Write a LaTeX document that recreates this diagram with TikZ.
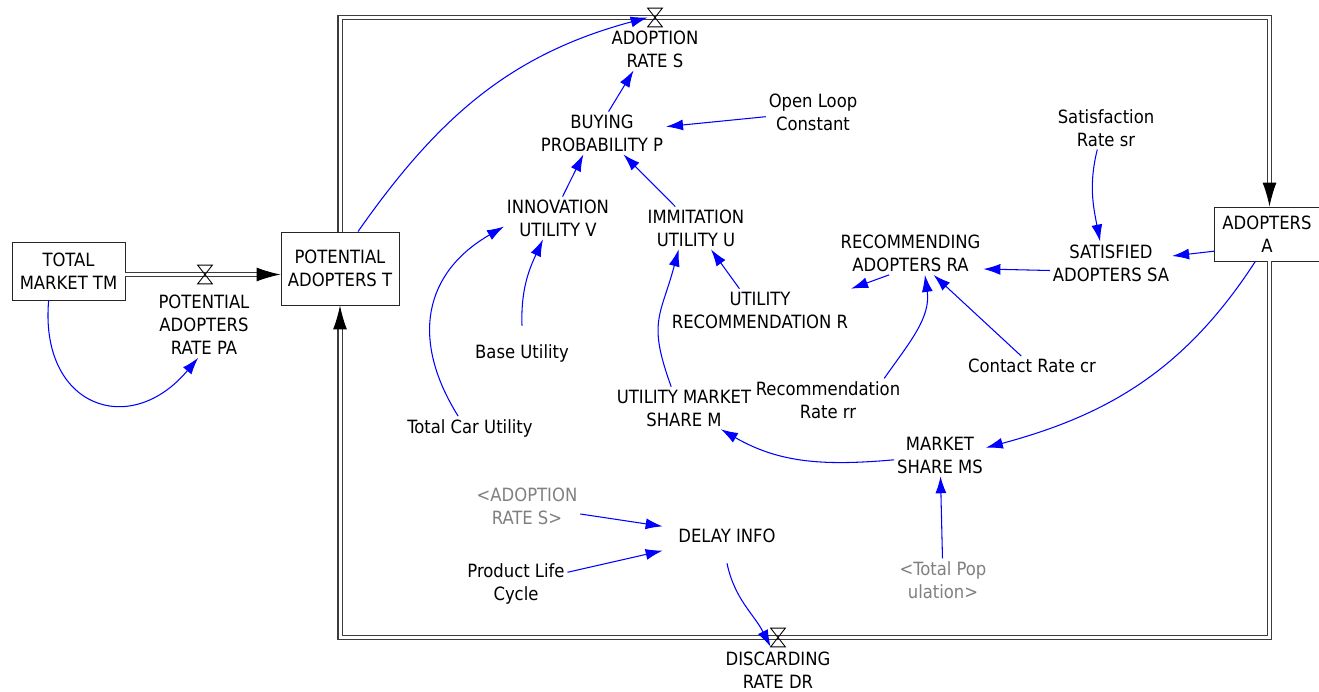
\documentclass[tikz,border=0pt]{standalone}
\usepackage{fontspec}
\usepackage{tikz}
\usetikzlibrary{arrows.meta, calc}
\newfontfamily\vensimfont{DejaVu Sans Condensed}
\definecolor{linkblue}{RGB}{0, 0, 255}
\definecolor{ghostgray}{RGB}{128, 128, 128}
\definecolor{pipegray}{RGB}{60, 60, 60}
\newcommand{\varlabelfont}{\vensimfont\fontsize{10.4}{13.1}\selectfont}

\begin{document}
\begin{tikzpicture}[x=0.02cm, y=-0.02cm,
    var/.style={font=\varlabelfont, align=center, inner sep=1.5pt},
    ghost/.style={var, text=ghostgray},
    stock/.style={draw=black!85, line width=0.5pt, font=\varlabelfont, align=center, inner sep=0pt},
    valve/.style={minimum width=0.28cm, minimum height=0.36cm, inner sep=0pt},
    pipe/.style={draw=pipegray, line width=0.6pt, double=white, double distance=0.06cm, -{Latex[length=0.48cm, width=0.28cm, color=black]}},
    link/.style={draw=linkblue, line width=0.6pt, -{Latex[length=0.34cm, width=0.22cm]}}]
    \useasboundingbox (0,0) rectangle (1319,692);

    % Stocks
    \node[stock, minimum width=2.26cm, minimum height=1.16cm] (totalTM) at (68.5,271) {TOTAL\\MARKET TM};
    \node[stock, minimum width=2.36cm, minimum height=1.46cm] (potT) at (340,268.5) {POTENTIAL\\ADOPTERS T};
    \node[stock, minimum width=2.1cm, minimum height=1.08cm] (adoptA) at (1267,234) {ADOPTERS\\A};

    % Valves and rate labels
    \node[valve] (valvePA) at (205,274.5) {};
    \node[valve] (valveS) at (655,17.5) {};
    \node[valve] (valveDR) at (778,637.5) {};
    \node[var] (ratePA) at (204,325) {POTENTIAL\\ADOPTERS\\RATE PA};
    \node[var] (rateS) at (655,49) {ADOPTION\\RATE S};
    \node[var] (rateDR) at (778,670) {DISCARDING\\RATE DR};

    % Pipe corners
    \coordinate (cornerTL) at (340,17.5);
    \coordinate (cornerTR) at (1269.5,17.5);
    \coordinate (cornerBR) at (1269.5,637.5);
    \coordinate (cornerBL) at (340,637.5);

    % Auxiliaries
    \node[var] (buyP) at (602,133) {BUYING\\PROBABILITY P};
    \node[var] (openLoop) at (813,112) {Open Loop\\Constant};
    \node[var] (innoV) at (558,218) {INNOVATION\\UTILITY V};
    \node[var] (immU) at (696,228) {IMMITATION\\UTILITY U};
    \node[var] (utilR) at (760,310) {UTILITY\\RECOMMENDATION R};
    \node[var, minimum height=1.08cm] (baseU) at (522,353) {Base Utility};
    \node[var] (totalCU) at (470,428) {Total Car Utility};
    \node[var] (umsM) at (684,408) {UTILITY MARKET\\SHARE M};
    \node[var] (recRA) at (910.5,253.5) {RECOMMENDING\\ADOPTERS RA};
    \node[var] (satSA) at (1111,263) {SATISFIED\\ADOPTERS SA};
    \node[var] (satSr) at (1106,128) {Satisfaction\\Rate sr};
    \node[var] (recRr) at (828,400) {Recommendation\\Rate rr};
    \node[var] (contactCr) at (1032,366) {Contact Rate cr};
    \node[var] (marketMS) at (940,455) {MARKET\\SHARE MS};
    \node[var, minimum width=2.56cm, minimum height=1.08cm] (delayInfo) at (727,536) {DELAY INFO};
    \node[var] (prodLC) at (516,584) {Product Life\\Cycle};
    \node[ghost] (ghostS) at (527,506) {<ADOPTION\\RATE S>};
    \node[ghost] (ghostPop) at (943,580) {<Total Pop\\ulation>};

    % Flow pipes
    \draw[pipe] (totalTM.east |- valvePA) -- (potT.west |- valvePA);
    \draw[pipe] (potT.north) -- (cornerTL) -- (cornerTR) -- (cornerTR |- adoptA.north);
    \draw[pipe] (cornerBR |- adoptA.south) -- (cornerBR) -- (cornerBL) -- (potT.south);

    % Valve hourglasses
    \foreach \v in {valvePA, valveS, valveDR}
        \draw[black, line width=0.5pt] (\v.north west) -- (\v.north east) -- (\v.south west) -- (\v.south east) -- cycle;

    % Causal links
    \draw[link] (totalTM.-124) to[out=-95, in=-130, looseness=1.7] (ratePA.-100);
    \draw[link] (potT.64) to[out=55, in=-165] (valveS.west);
    \draw[link] (buyP.73) -- (rateS.-135);
    \draw[link] (openLoop) -- (buyP);
    \draw[link] (innoV.78) -- (buyP.-131);
    \draw[link] (immU.134) -- (buyP.-45);
    \draw[link] (utilR.134) -- (immU.-55);
    \draw[link] (baseU.north) to[out=92, in=-115] (innoV.-125);
    \draw[link] (totalCU.135) to[out=122, in=-150, looseness=1.2] (innoV.-171);
    \draw[link] (umsM.121) to[out=110, in=-105, looseness=1.3] (immU.-129);
    \draw[link] (marketMS.186) to[out=185, in=-30] (umsM.-30);
    \draw[link] (adoptA.-113) to[out=-123, in=15] (marketMS.9);
    \draw[link] (ghostPop) -- (marketMS);
    \draw[link] (adoptA.198) -- (satSA);
    \draw[link] (satSr.-112) to[out=-104, in=101] (satSA.117);
    \draw[link] (satSA.187) -- (recRA.-12);
    \draw[link] (contactCr) -- (recRA);
    \draw[link] (recRr.21) to[out=55, in=-82] (recRA.-56);
    \draw[link] (recRA.-135) -- (utilR.north east);
    \draw[link] (ghostS) -- (delayInfo);
    \draw[link] (prodLC) -- (delayInfo);
    \draw[link] (delayInfo.south) to[out=-78, in=117] (valveDR.south west);
\end{tikzpicture}
\end{document}
